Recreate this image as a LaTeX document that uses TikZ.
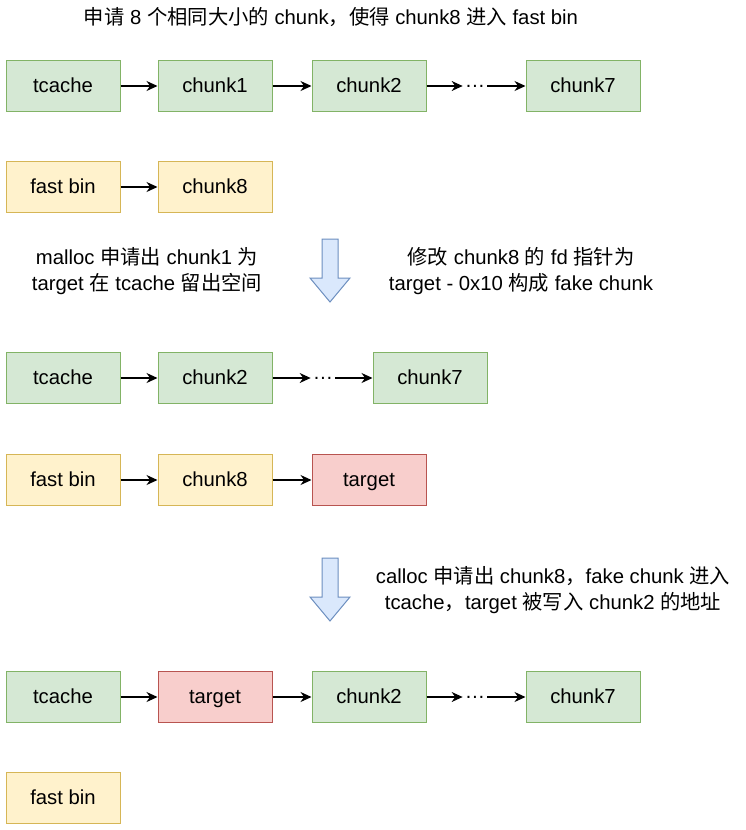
\documentclass[tikz,border=0pt]{standalone}
\usepackage{fontspec}
\setmainfont{Liberation Sans}
\newfontfamily\cjk{Noto Sans CJK SC}
\usetikzlibrary{arrows.meta, positioning}

\definecolor{tcgreen}{HTML}{D5E8D4}
\definecolor{tcgreenline}{HTML}{82B366}
\definecolor{fbyellow}{HTML}{FFF2CC}
\definecolor{fbyellowline}{HTML}{D6B656}
\definecolor{tgred}{HTML}{F8CECC}
\definecolor{tgredline}{HTML}{B85450}
\definecolor{stepblue}{HTML}{DAE8FC}
\definecolor{stepblueline}{HTML}{6C8EBF}

\tikzset{
    chunkbox/.style={draw, line width=1pt, minimum width=114pt, minimum height=51pt,
        inner sep=0pt, text height=15.5pt, text depth=2.5pt},
    tbox/.style={chunkbox, fill=tcgreen, draw=tcgreenline},
    fbox/.style={chunkbox, fill=fbyellow, draw=fbyellowline},
    rbox/.style={chunkbox, fill=tgred, draw=tgredline},
    dotsnode/.style={inner sep=2pt},
    link/.style={->, line width=1.2pt},
    note/.style={align=center, font=\fontsize{20.3}{26}\selectfont}
}

\begin{document}
\begin{tikzpicture}[x=1pt, y=-1pt, >={Stealth[length=11pt,width=10pt]},
    font=\fontsize{20.3}{24}\selectfont]

    \useasboundingbox (0,0) rectangle (745,830);

    % =================================================================
    % 1. TIÊU ĐỀ
    % =================================================================
    \node[note] (title) at (331,17) {{\cjk 申请} 8 {\cjk 个相同大小的} chunk{\cjk ，使得} chunk8 {\cjk 进入} fast bin};

    % =================================================================
    % 2. TRẠNG THÁI BAN ĐẦU
    % =================================================================
    \node[tbox] (tc1) at (63,86) {tcache};
    \node[tbox] (c1a) at (215,86) {chunk1};
    \node[tbox] (c2a) at (369,86) {chunk2};
    \node[dotsnode] (d1) at (475,86) {…};
    \node[tbox] (c7a) at (583,86) {chunk7};
    \draw[link] (tc1) -- (c1a);
    \draw[link] (c1a) -- (c2a);
    \draw[link] (c2a) -- (d1);
    \draw[link] (d1) -- (c7a);

    \node[fbox] (fb1) at (63,187) {fast bin};
    \node[fbox] (c8a) at (215,187) {chunk8};
    \draw[link] (fb1) -- (c8a);

    % =================================================================
    % 3. MŨI TÊN CHUYỂN BƯỚC VÀ CHÚ THÍCH
    % =================================================================
    \foreach \y in {239,558} {
        \draw[fill=stepblue, draw=stepblueline, line width=1pt, line join=miter]
            (322,\y) -- (338,\y) -- (338,\y+39) -- (350,\y+39) -- (330,\y+63)
            -- (310,\y+39) -- (322,\y+39) -- cycle;
    }

    \node[note] (note1) at (147,271) {malloc {\cjk 申请出} chunk1 {\cjk 为}\\target {\cjk 在} tcache {\cjk 留出空间}};
    \node[note] (note2) at (521,271) {{\cjk 修改} chunk8 {\cjk 的} fd {\cjk 指针为}\\target - 0x10 {\cjk 构成} fake chunk};

    % =================================================================
    % 4. SAU KHI MALLOC
    % =================================================================
    \node[tbox] (tc2) at (63,378) {tcache};
    \node[tbox] (c2b) at (215,378) {chunk2};
    \node[dotsnode] (d2) at (323,378) {…};
    \node[tbox] (c7b) at (430,378) {chunk7};
    \draw[link] (tc2) -- (c2b);
    \draw[link] (c2b) -- (d2);
    \draw[link] (d2) -- (c7b);

    \node[fbox] (fb2) at (63,480) {fast bin};
    \node[fbox] (c8b) at (215,480) {chunk8};
    \node[rbox] (tg1) at (369,480) {target};
    \draw[link] (fb2) -- (c8b);
    \draw[link] (c8b) -- (tg1);

    \node[note] (note3) at (553,590) {calloc {\cjk 申请出} chunk8{\cjk ，}fake chunk {\cjk 进入}\\tcache{\cjk ，}target {\cjk 被写入} chunk2 {\cjk 的地址}};

    % =================================================================
    % 5. SAU KHI CALLOC
    % =================================================================
    \node[tbox] (tc3) at (63,697) {tcache};
    \node[rbox] (tg2) at (215,697) {target};
    \node[tbox] (c2c) at (369,697) {chunk2};
    \node[dotsnode] (d3) at (475,697) {…};
    \node[tbox] (c7c) at (583,697) {chunk7};
    \draw[link] (tc3) -- (tg2);
    \draw[link] (tg2) -- (c2c);
    \draw[link] (c2c) -- (d3);
    \draw[link] (d3) -- (c7c);

    \node[fbox] (fb3) at (63,798) {fast bin};

\end{tikzpicture}
\end{document}
